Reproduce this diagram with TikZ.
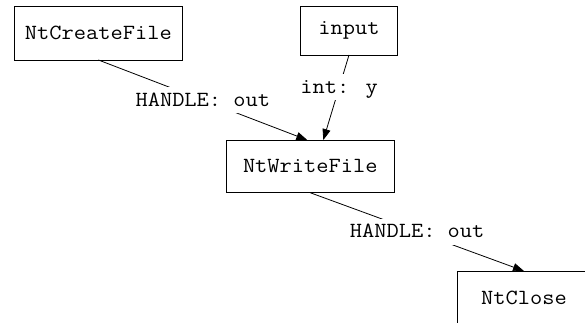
\documentclass[tikz,border=0pt]{standalone}
\usepackage{fontspec}
\newfontfamily\codefont[FakeStretch=1.1]{Latin Modern Mono}
\usetikzlibrary{arrows.meta}

\tikzset{
  code/.style={font=\codefont\fontsize{21.6}{26}\selectfont},
  fnbox/.style={code, draw, line width=0.8pt, rectangle, inner sep=0pt, outer sep=0pt},
  arr/.style={line width=0.8pt, -{Triangle[length=11pt,width=8pt]}},
  lbl/.style={code, fill=white, inner xsep=2pt, inner ysep=0pt,
              text height=19pt, text depth=7pt},
}

\begin{document}
\begin{tikzpicture}[x=1pt, y=-1pt]
  \useasboundingbox (0,0) rectangle (585,323);
  \clip (0,0) rectangle (585,323);

  % calls
  \node[fnbox, minimum width=168.7pt, minimum height=54pt]   (ncf) at (98.4,33)    {NtCreateFile};
  \node[fnbox, minimum width=96.6pt,  minimum height=49pt]   (inp) at (349,30.5)   {input};
  \node[fnbox, minimum width=167.3pt, minimum height=52.7pt] (nwf) at (310.3,166.4) {NtWriteFile};
  \node[fnbox, minimum width=133pt,   minimum height=53pt]   (ncl) at (524,297.5)  {NtClose};

  % data flow between the calls
  \draw[arr] (ncf.south) -- node[lbl, pos=0.5] {HANDLE: out} ([xshift=-3pt]nwf.north);
  \draw[arr] (inp.south) -- node[lbl, pos=0.38] {int: y} ([xshift=13pt]nwf.north);
  \draw[arr] (nwf.south) -- node[lbl, pos=0.5] {HANDLE: out} (ncl.north);
\end{tikzpicture}
\end{document}
